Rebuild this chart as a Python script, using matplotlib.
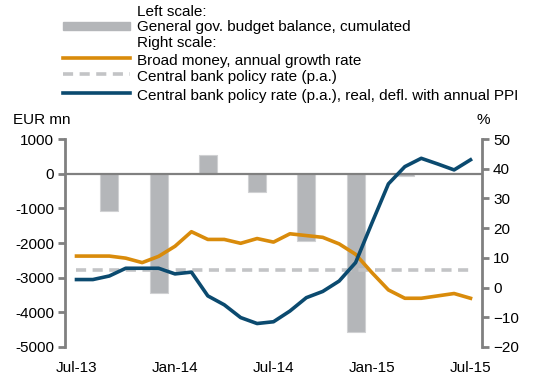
import matplotlib
matplotlib.use("Agg")
import matplotlib.pyplot as plt
from matplotlib.lines import Line2D
from matplotlib.patches import Rectangle
import numpy as np

plt.rcParams['font.family'] = ['Liberation Sans', 'DejaVu Sans']

# month index 0 = Jul-13 ... 24 = Jul-15
months = list(range(25))
xtick_pos = [0, 6, 12, 18, 24]
xtick_labels = ["Jul-13", "Jan-14", "Jul-14", "Jan-15", "Jul-15"]

bar_months = [2, 5, 8, 11, 14, 17, 20]
budget_balance = [-1090, -3430, 550, -520, -1940, -4560, -60]

broad_money = [10.6, 10.6, 10.6, 9.9, 8.4, 10.5, 13.9, 18.8, 16.2, 16.2, 14.9,
               16.5, 15.3, 18.1, 17.5, 16.9, 14.7, 11.2, 5.0, -0.8, -3.6, -3.6,
               -2.8, -2.0, -3.6]
policy_rate = [5.9] * 25
real_rate = [2.7, 2.7, 3.9, 6.5, 6.5, 6.5, 4.6, 5.2, -2.8, -5.8, -10.1, -12.1,
             -11.5, -7.9, -3.4, -1.3, 2.2, 8.4, 21.8, 34.9, 40.7, 43.5, 41.6,
             39.6, 43.0]

BAR = "#b4b6b9"
ORANGE = "#d98b0b"
BLUE = "#0b4a6f"
DASH = "#c3c4c6"
AXC = "#808080"
FS = 11

fig = plt.figure(figsize=(5.42, 3.78), dpi=100)
W, H = 542, 378
ax = fig.add_axes([65 / W, 1 - 347 / H, (482 - 65) / W, (347 - 139) / H])
ax2 = ax.twinx()

ax.bar(bar_months, budget_balance, width=1.1, color=BAR, edgecolor="#d0d1d3",
       linewidth=0.8, zorder=1)
ax.axhline(0, color=AXC, lw=1.6, zorder=2)
ax.set_ylim(-5000, 1000)
ax.set_yticks(np.arange(-5000, 1001, 1000))
ax.set_yticklabels([str(v) for v in range(-5000, 1001, 1000)])
ax.set_xlim(-0.7, 24.7)
ax.set_xticks(xtick_pos)
ax.set_xticklabels(xtick_labels)

ax2.plot(months, policy_rate, color=DASH, lw=2.6, dashes=(2.8, 1.8), zorder=3)
ax2.plot(months, broad_money, color=ORANGE, lw=2.6, zorder=4)
ax2.plot(months, real_rate, color=BLUE, lw=2.6, zorder=5)
ax2.set_ylim(-20, 50)
ax2.set_yticks(np.arange(-20, 51, 10))

for a in (ax, ax2):
    for s in ("top", "bottom"):
        a.spines[s].set_visible(False)
ax.spines["right"].set_visible(False)
ax2.spines["left"].set_visible(False)
ax.spines["left"].set_color(AXC)
ax.spines["left"].set_linewidth(2)
ax2.spines["right"].set_color(AXC)
ax2.spines["right"].set_linewidth(2)
ax.tick_params(axis="y", colors=AXC, labelcolor="black", labelsize=FS, length=5, width=2, pad=3)
ax2.tick_params(axis="y", colors=AXC, labelcolor="black", labelsize=FS, length=5, width=2, pad=3)
ax.tick_params(axis="x", length=0, labelsize=FS, pad=10)
ax2.tick_params(axis="x", length=0)

fig.text(13 / W, 1 - 120 / H, "EUR mn", fontsize=FS, va="center", ha="left")
fig.text(483 / W, 1 - 120 / H, "%", fontsize=FS, va="center", ha="center")

# legend drawn manually
x0, x1, xt = 63 / W, 130 / W, 137 / W
items = [
    (12, None, "Left scale:"),
    (27, "bar", "General gov. budget balance, cumulated"),
    (43, None, "Right scale:"),
    (61, "orange", "Broad money, annual growth rate"),
    (77, "dash", "Central bank policy rate (p.a.)"),
    (96, "blue", "Central bank policy rate (p.a.), real, defl. with annual PPI"),
]
for y, kind, label in items:
    yf = 1 - y / H
    fig.text(xt, yf, label, fontsize=FS, va="center", ha="left")
    hy = 1 - (y - 3) / H
    if kind == "bar":
        fig.patches.append(Rectangle((x0, 1 - 30 / H), x1 - x0, 8 / H,
                                     transform=fig.transFigure, color=BAR))
    elif kind == "orange":
        fig.lines.append(Line2D([x0, x1], [hy, hy], transform=fig.transFigure, color=ORANGE, lw=2.6))
    elif kind == "dash":
        fig.lines.append(Line2D([x0, x1], [hy, hy], transform=fig.transFigure, color=DASH, lw=2.6, dashes=(2.8, 1.8)))
    elif kind == "blue":
        fig.lines.append(Line2D([x0, x1], [hy, hy], transform=fig.transFigure, color=BLUE, lw=2.6))

fig.savefig("out.png", dpi=100)
